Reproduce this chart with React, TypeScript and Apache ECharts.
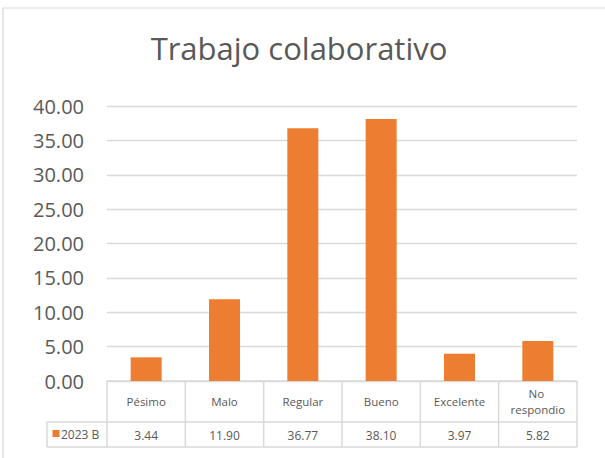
import React, { useEffect, useRef } from "react";
import * as echarts from "echarts";

const categories = ["Pésimo", "Malo", "Regular", "Bueno", "Excelente", "No respondio"];
const seriesName = "2023 B";
const values = [3.44, 11.9, 36.77, 38.1, 3.97, 5.82];
const yMin = 0;
const yMax = 40;
const yInterval = 5;

const FONT = "'Open Sans', sans-serif";
const TEXT = "#595959";
const LINE = "#D9D9D9";
const ORANGE = "#ED7D31";

// layout
const W = 605;
const H = 458;
const gridLeft = 107;
const gridRight = 577;
const gridTop = 106;
const gridBottom = 381;
const headerBottom = 422;
const tableBottom = 447;
const labelLeft = 47;

export default function App() {
  const ref = useRef<HTMLDivElement>(null);
  useEffect(() => {
    if (!ref.current) return;
    const chart = echarts.init(ref.current, undefined, { renderer: "svg" });
    const colW = (gridRight - gridLeft) / categories.length;
    const lineStyle = { stroke: LINE, lineWidth: 1.5 };
    const graphics: any[] = [
      {
        type: "rect",
        shape: { x: 3, y: 8, width: 800, height: 800 },
        style: { fill: "none", stroke: LINE, lineWidth: 1.2 },
        silent: true,
      },
      {
        type: "text",
        x: 299,
        y: 48,
        style: {
          text: "Trabajo colaborativo",
          font: `31px ${FONT}`,
          fill: TEXT,
          textAlign: "center",
          textVerticalAlign: "middle",
        },
      },
      { type: "line", shape: { x1: gridLeft, y1: gridBottom, x2: gridRight, y2: gridBottom }, style: lineStyle },
      { type: "line", shape: { x1: labelLeft, y1: headerBottom, x2: gridRight, y2: headerBottom }, style: lineStyle },
      { type: "line", shape: { x1: labelLeft, y1: tableBottom, x2: gridRight, y2: tableBottom }, style: lineStyle },
      { type: "line", shape: { x1: labelLeft, y1: headerBottom, x2: labelLeft, y2: tableBottom }, style: lineStyle },
      {
        type: "rect",
        shape: { x: 52.5, y: 430, width: 7, height: 7 },
        style: { fill: ORANGE },
      },
      {
        type: "text",
        x: 61,
        y: 434.5,
        style: {
          text: seriesName,
          font: `12px ${FONT}`,
          fill: TEXT,
          textAlign: "left",
          textVerticalAlign: "middle",
        },
      },
    ];
    for (let i = 0; i <= categories.length; i++) {
      const x = gridLeft + i * colW;
      graphics.push({ type: "line", shape: { x1: x, y1: gridBottom, x2: x, y2: tableBottom }, style: lineStyle });
    }
    categories.forEach((c, i) => {
      const cx = gridLeft + (i + 0.5) * colW;
      graphics.push({
        type: "text",
        x: cx,
        y: (gridBottom + headerBottom) / 2,
        style: {
          text: c,
          font: `11.5px ${FONT}`,
          fill: TEXT,
          textAlign: "center",
          textVerticalAlign: "middle",
          width: 68,
          overflow: "break",
          lineHeight: 16,
        },
      });
      graphics.push({
        type: "text",
        x: cx,
        y: (headerBottom + tableBottom) / 2 + 0.5,
        style: {
          text: values[i].toFixed(2),
          font: `12px ${FONT}`,
          fill: TEXT,
          textAlign: "center",
          textVerticalAlign: "middle",
        },
      });
    });

    chart.setOption({
      animation: false,
      backgroundColor: "#fff",
      grid: {
        left: gridLeft,
        right: W - gridRight,
        top: gridTop,
        bottom: H - gridBottom,
        containLabel: false,
      },
      xAxis: {
        type: "category",
        data: categories,
        axisLine: { show: false },
        axisTick: { show: false },
        axisLabel: { show: false },
      },
      yAxis: {
        type: "value",
        min: yMin,
        max: yMax,
        interval: yInterval,
        axisLine: { show: false },
        axisTick: { show: false },
        axisLabel: {
          formatter: (v: number) => v.toFixed(2),
          fontFamily: FONT,
          fontSize: 20,
          color: TEXT,
          margin: 23,
        },
        splitLine: { lineStyle: { color: LINE, width: 1.3 } },
      },
      series: [
        {
          type: "bar",
          name: seriesName,
          data: values,
          barWidth: 31,
          itemStyle: { color: ORANGE },
        },
      ],
      graphic: graphics,
    });
    return () => chart.dispose();
  }, []);
  return <div ref={ref} style={{ position: "absolute", left: 0, top: 0, width: W, height: H }} />;
}
